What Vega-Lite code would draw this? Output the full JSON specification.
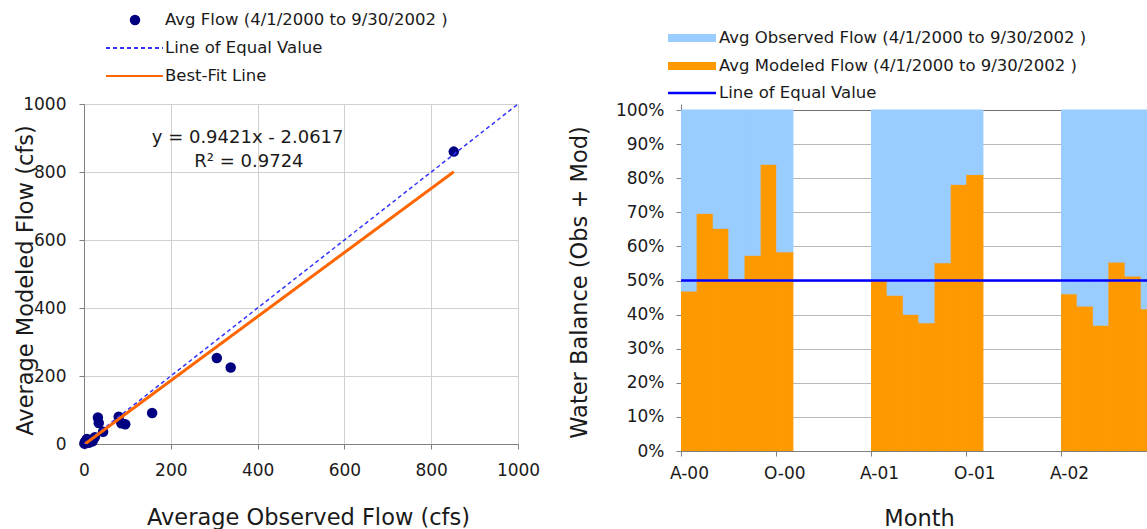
{
  "$schema": "https://vega.github.io/schema/vega-lite/v6.json",
  "background": "white",
  "padding": {"left": 13, "top": 10, "right": 0, "bottom": 0},
  "config": {
    "font": "DejaVu Sans",
    "view": {"stroke": null},
    "axis": {
      "labelFont": "DejaVu Sans", "titleFont": "DejaVu Sans",
      "labelColor": "#1a1a1a", "titleColor": "#1a1a1a", "titleFontWeight": "normal",
      "domainColor": "#808080", "tickColor": "#808080", "tickSize": 5,
      "labelFontSize": 17, "titleFontSize": 22.5, "labelOverlap": false
    },
    "legend": {"labelFont": "DejaVu Sans", "labelFontSize": 16.5, "labelColor": "#1a1a1a", "padding": 0, "labelLimit": 0, "clipHeight": 18, "rowPadding": 10}
  },
  "resolve": {
    "scale": {"color": "independent", "stroke": "independent", "strokeDash": "independent"},
    "legend": {"color": "independent", "stroke": "independent", "strokeDash": "independent"}
  },
  "datasets": {
    "points": [
      {"obs": 852, "mod": 860, "series": "pts"},
      {"obs": 306, "mod": 253, "series": "pts"},
      {"obs": 338, "mod": 225, "series": "pts"},
      {"obs": 157, "mod": 91, "series": "pts"},
      {"obs": 32, "mod": 78, "series": "pts"},
      {"obs": 34, "mod": 62, "series": "pts"},
      {"obs": 80, "mod": 80, "series": "pts"},
      {"obs": 95, "mod": 58, "series": "pts"},
      {"obs": 86, "mod": 61, "series": "pts"},
      {"obs": 44, "mod": 36, "series": "pts"},
      {"obs": 25, "mod": 20, "series": "pts"},
      {"obs": 16, "mod": 12, "series": "pts"},
      {"obs": 9, "mod": 6, "series": "pts"},
      {"obs": 3, "mod": 2, "series": "pts"},
      {"obs": 1, "mod": 1, "series": "pts"},
      {"obs": 20, "mod": 8, "series": "pts"},
      {"obs": 5, "mod": 11, "series": "pts"},
      {"obs": 12, "mod": 4, "series": "pts"},
      {"obs": 2, "mod": 6, "series": "pts"},
      {"obs": 7, "mod": 15, "series": "pts"}
    ],
    "equal": [{"obs": 0, "mod": 0, "series": "eq"}, {"obs": 1000, "mod": 1000, "series": "eq"}],
    "fit": [{"obs": 3, "mod": 0.765, "series": "best"}, {"obs": 852, "mod": 800.6, "series": "best"}],
    "notes": [
      {"obs": 377, "mod": 886, "label": "y = 0.9421x - 2.0617"},
      {"obs": 380, "mod": 814, "label": "R² = 0.9724"}
    ],
    "balance": [
      {"month": "2000-04-01", "series": "mod", "share": 0.469}, {"month": "2000-04-01", "series": "obs", "share": 0.531},
      {"month": "2000-05-01", "series": "mod", "share": 0.697}, {"month": "2000-05-01", "series": "obs", "share": 0.303},
      {"month": "2000-06-01", "series": "mod", "share": 0.653}, {"month": "2000-06-01", "series": "obs", "share": 0.347},
      {"month": "2000-07-01", "series": "mod", "share": 0.505}, {"month": "2000-07-01", "series": "obs", "share": 0.495},
      {"month": "2000-08-01", "series": "mod", "share": 0.574}, {"month": "2000-08-01", "series": "obs", "share": 0.426},
      {"month": "2000-09-01", "series": "mod", "share": 0.841}, {"month": "2000-09-01", "series": "obs", "share": 0.159},
      {"month": "2000-10-01", "series": "mod", "share": 0.584}, {"month": "2000-10-01", "series": "obs", "share": 0.416},
      {"month": "2001-04-01", "series": "mod", "share": 0.500}, {"month": "2001-04-01", "series": "obs", "share": 0.500},
      {"month": "2001-05-01", "series": "mod", "share": 0.457}, {"month": "2001-05-01", "series": "obs", "share": 0.543},
      {"month": "2001-06-01", "series": "mod", "share": 0.401}, {"month": "2001-06-01", "series": "obs", "share": 0.599},
      {"month": "2001-07-01", "series": "mod", "share": 0.376}, {"month": "2001-07-01", "series": "obs", "share": 0.624},
      {"month": "2001-08-01", "series": "mod", "share": 0.552}, {"month": "2001-08-01", "series": "obs", "share": 0.448},
      {"month": "2001-09-01", "series": "mod", "share": 0.782}, {"month": "2001-09-01", "series": "obs", "share": 0.218},
      {"month": "2001-10-01", "series": "mod", "share": 0.811}, {"month": "2001-10-01", "series": "obs", "share": 0.189},
      {"month": "2002-04-01", "series": "mod", "share": 0.461}, {"month": "2002-04-01", "series": "obs", "share": 0.539},
      {"month": "2002-05-01", "series": "mod", "share": 0.425}, {"month": "2002-05-01", "series": "obs", "share": 0.575},
      {"month": "2002-06-01", "series": "mod", "share": 0.369}, {"month": "2002-06-01", "series": "obs", "share": 0.631},
      {"month": "2002-07-01", "series": "mod", "share": 0.554}, {"month": "2002-07-01", "series": "obs", "share": 0.446},
      {"month": "2002-08-01", "series": "mod", "share": 0.513}, {"month": "2002-08-01", "series": "obs", "share": 0.487},
      {"month": "2002-09-01", "series": "mod", "share": 0.417}, {"month": "2002-09-01", "series": "obs", "share": 0.583}
    ],
    "equalShare": [{"share": 0.5, "series": "eq"}]
  },
  "spacing": 163,
  "bounds": "flush",
  "hconcat": [
    {
      "width": 434,
      "height": 340,
      "view": {"stroke": "#808080", "strokeWidth": 1},
      "encoding": {
        "x": {
          "field": "obs", "type": "quantitative",
          "scale": {"domain": [0, 1000], "nice": false},
          "axis": {
            "title": "Average Observed Flow (cfs)",
            "values": [0, 200, 400, 600, 800, 1000], "format": "d",
            "grid": true, "gridColor": "#d0d0d0",
            "labelPadding": 13, "labelFlush": false,
            "titleX": 224, "titleY": 80, "titleBaseline": "alphabetic"
          }
        },
        "y": {
          "field": "mod", "type": "quantitative",
          "scale": {"domain": [0, 1000], "nice": false},
          "axis": {
            "title": "Average Modeled Flow (cfs)",
            "values": [0, 200, 400, 600, 800, 1000], "format": "d",
            "grid": true, "gridColor": "#d0d0d0",
            "labelPadding": 13, "labelFlush": false,
            "titleX": -52, "titleY": 176, "titleBaseline": "alphabetic"
          }
        }
      },
      "layer": [
        {
          "data": {"name": "points"},
          "mark": {"type": "point", "filled": true, "size": 110, "opacity": 1},
          "encoding": {
            "color": {
              "field": "series", "type": "nominal",
              "scale": {"domain": ["pts"], "range": ["#000080"]},
              "legend": {
                "title": null, "orient": "none", "legendX": 42.75, "legendY": -93,
                "symbolSize": 110, "symbolType": "circle", "labelOffset": 21.75,
                "symbolOpacity": 1,
                "labelExpr": "'Avg Flow (4/1/2000 to 9/30/2002 )'"
              }
            }
          }
        },
        {
          "data": {"name": "equal"},
          "mark": {"type": "line", "strokeWidth": 1.5, "clip": true},
          "encoding": {
            "stroke": {
              "field": "series", "type": "nominal",
              "scale": {"domain": ["eq", "best"], "range": ["#3333ff", "#ff6600"]},
              "legend": {
                "title": null, "orient": "none", "legendX": 21, "legendY": -65,
                "symbolSize": 3249, "symbolType": "stroke", "symbolStrokeWidth": 2, "labelOffset": 1,
                "labelExpr": "datum.value === 'eq' ? 'Line of Equal Value' : 'Best-Fit Line'"
              }
            },
            "strokeDash": {
              "field": "series", "type": "nominal",
              "scale": {"domain": ["eq", "best"], "range": [[4, 3], [1, 0]]},
              "legend": {
                "title": null, "orient": "none", "legendX": 21, "legendY": -65,
                "symbolSize": 3249, "symbolType": "stroke", "symbolStrokeWidth": 2, "labelOffset": 1,
                "labelExpr": "datum.value === 'eq' ? 'Line of Equal Value' : 'Best-Fit Line'"
              }
            }
          }
        },
        {
          "data": {"name": "fit"},
          "mark": {"type": "line", "strokeWidth": 3, "clip": true},
          "encoding": {
            "stroke": {"field": "series", "type": "nominal"},
            "strokeDash": {"field": "series", "type": "nominal"}
          }
        },
        {
          "data": {"name": "notes"},
          "mark": {"type": "text", "fontSize": 18, "align": "center", "baseline": "alphabetic", "color": "#1a1a1a"},
          "encoding": {"text": {"field": "label"}}
        }
      ]
    },
    {
      "width": 467,
      "height": 347,
      "resolve": {"scale": {"stroke": "independent"}, "legend": {"stroke": "independent"}},
      "layer": [
        {
          "data": {"name": "balance"},
          "mark": {"type": "bar", "clip": true, "strokeWidth": 1, "binSpacing": 0},
          "encoding": {
            "x": {
              "field": "month", "type": "temporal", "timeUnit": "utcyearmonth",
              "scale": {"type": "utc", "domain": [
                {"year": 2000, "month": 4, "date": 1, "utc": true},
                {"year": 2002, "month": 9, "date": 15, "utc": true}
              ]},
              "axis": {
                "title": "Month",
                "values": [
                  {"year": 2000, "month": 4, "date": 1, "utc": true},
                  {"year": 2000, "month": 10, "date": 1, "utc": true},
                  {"year": 2001, "month": 4, "date": 1, "utc": true},
                  {"year": 2001, "month": 10, "date": 1, "utc": true},
                  {"year": 2002, "month": 4, "date": 1, "utc": true}
                ],
                "labelExpr": "substring(utcFormat(datum.value, '%b'), 0, 1) + '-' + utcFormat(datum.value, '%y')",
                "labelOffset": 8, "labelPadding": 9, "labelFlush": false,
                "grid": false,
                "titleX": 238, "titleY": 74, "titleBaseline": "alphabetic"
              }
            },
            "y": {
              "field": "share", "type": "quantitative", "stack": "zero",
              "scale": {"domain": [0, 1.0176], "nice": false},
              "axis": {
                "title": "Water Balance (Obs + Mod)",
                "values": [0, 0.1, 0.2, 0.3, 0.4, 0.5, 0.6, 0.7, 0.8, 0.9, 1],
                "format": ".0%", "labelOverlap": false,
                "grid": true,
                "gridColor": {"condition": {"test": "datum.value >= 0.99", "value": "#707070"}, "value": "#b8b8b8"},
                "labelPadding": 12, "labelFlush": false,
                "titleX": -95, "titleY": 178, "titleBaseline": "alphabetic"
              }
            },
            "color": {
              "field": "series", "type": "nominal",
              "scale": {"domain": ["obs", "mod"], "range": ["#99ccff", "#ff9900"]},
              "legend": null
            },
            "stroke": {
              "field": "series", "type": "nominal",
              "scale": {"domain": ["obs", "mod"], "range": ["#99ccff", "#ff9900"]},
              "legend": {
                "title": null, "orient": "none", "legendX": -17, "legendY": -75,
                "symbolSize": 2304, "symbolType": "stroke", "symbolStrokeWidth": 8, "labelOffset": -1,
                "labelExpr": "datum.value === 'obs' ? 'Avg Observed Flow (4/1/2000 to 9/30/2002 )' : 'Avg Modeled Flow (4/1/2000 to 9/30/2002 )'"
              }
            },
            "order": {"field": "series", "sort": "ascending"}
          }
        },
        {
          "data": {"name": "equalShare"},
          "mark": {"type": "rule", "strokeWidth": 2.5},
          "encoding": {
            "y": {
              "field": "share", "type": "quantitative",
              "axis": {
                "title": "Water Balance (Obs + Mod)",
                "values": [0, 0.1, 0.2, 0.3, 0.4, 0.5, 0.6, 0.7, 0.8, 0.9, 1],
                "format": ".0%", "labelOverlap": false,
                "grid": true,
                "gridColor": {"condition": {"test": "datum.value >= 0.99", "value": "#707070"}, "value": "#b8b8b8"},
                "labelPadding": 12, "labelFlush": false,
                "titleX": -95, "titleY": 178, "titleBaseline": "alphabetic"
              }
            },
            "stroke": {
              "field": "series", "type": "nominal",
              "scale": {"domain": ["eq"], "range": ["#0000ff"]},
              "legend": {
                "title": null, "orient": "none", "legendX": -14.5, "legendY": -20,
                "symbolSize": 2304, "symbolType": "stroke", "symbolStrokeWidth": 2.5, "labelOffset": 1.5,
                "labelExpr": "'Line of Equal Value'"
              }
            }
          }
        }
      ]
    }
  ]
}
